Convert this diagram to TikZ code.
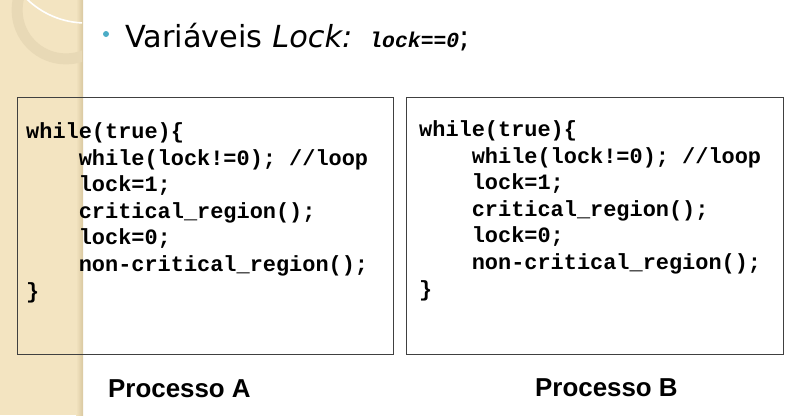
\documentclass[tikz,border=0pt]{standalone}
\usepackage{fontspec}
\setmainfont{DejaVu Sans}[ItalicFont={DejaVu Sans Oblique}]
\newfontfamily\codefont{Liberation Mono}
\newfontfamily\capfont{Liberation Sans}
\usetikzlibrary{positioning}

\definecolor{stripbeige}{HTML}{F3E4C1}
\definecolor{stripedge}{HTML}{D9C8A0}
\definecolor{ringtan}{HTML}{E8D9B6}
\definecolor{bulletteal}{HTML}{4BACC6}
\definecolor{boxline}{HTML}{404040}

\begin{document}
\begin{tikzpicture}[
            x=1bp, y=-1bp,
            codebox/.style={draw=boxline, line width=1bp, inner sep=0pt, anchor=north west},
            codetext/.style={align=left, inner sep=0pt, anchor=base west,
                    font=\codefont\bfseries\fontsize{22}{26.7}\selectfont},
            caption/.style={inner sep=0pt, anchor=base west,
                    font=\capfont\bfseries\fontsize{26}{30}\selectfont}
        ]
        \useasboundingbox (0,0) rectangle (787,415);

        % slide background strip
        \fill[stripbeige] (0,0) rectangle (83,415);
        \shade[left color=stripbeige, right color=stripedge] (76,0) rectangle (83,415);
        \begin{scope}
            \clip (0,0) rectangle (82,415);
            \fill[ringtan, even odd rule] (66,10) circle[radius=54.4bp] (66,10) circle[radius=43.4bp];
            \draw[white, line width=1.6bp] (86,-62) circle[radius=85bp];
        \end{scope}

        % title
        \node[circle, fill=bulletteal, inner sep=0pt, minimum size=6bp] (bullet) at (106,34) {};
        \node[inner sep=0pt, anchor=base west, font=\fontsize{30.5}{36}\selectfont] (title) at (125,47)
            {Variáveis \textit{Lock:}\hspace{4bp} {\codefont\bfseries\itshape\fontsize{21.5}{24}\selectfont lock==0};};

        % process A (base = last line)
        \node[codebox, minimum width=376bp, minimum height=257bp] (boxA) at (17,97) {};
        \node[codetext] (codeA) at ([shift={(9,201)}]boxA.north west)
            {while(true)\{\\
             \hphantom{wwww}while(lock!=0); //loop\\
             \hphantom{wwww}lock=1;\\
             \hphantom{wwww}critical\_region();\\
             \hphantom{wwww}lock=0;\\
             \hphantom{wwww}non-critical\_region();\\
             \}};
        \node[caption] (capA) at (108,397) {Processo A};

        % process B
        \node[codebox, fill=white, minimum width=377bp, minimum height=257bp] (boxB) at (406,97) {};
        \node[codetext] (codeB) at ([shift={(13,199)}]boxB.north west)
            {while(true)\{\\
             \hphantom{wwww}while(lock!=0); //loop\\
             \hphantom{wwww}lock=1;\\
             \hphantom{wwww}critical\_region();\\
             \hphantom{wwww}lock=0;\\
             \hphantom{wwww}non-critical\_region();\\
             \}};
        \node[caption] (capB) at (535,396) {Processo B};

\end{tikzpicture}
\end{document}
